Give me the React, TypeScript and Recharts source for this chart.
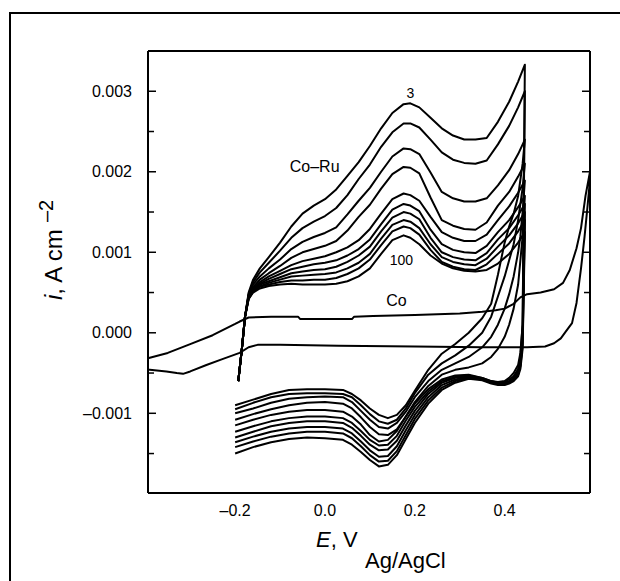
import { LineChart, Line, XAxis, YAxis, ReferenceDot } from 'recharts';

// potential grids (V vs Ag/AgCl)
const anodicE = [
  -0.193, -0.185, -0.178, -0.17, -0.16, -0.145, -0.125, -0.1, -0.075, -0.05, -0.025, 0, 0.025, 0.05, 0.075, 0.1,
  0.125, 0.15, 0.175, 0.19, 0.21, 0.235, 0.26, 0.285, 0.31, 0.335, 0.36, 0.385, 0.41, 0.43, 0.445,
];
const cathodicE = [
  0.445, 0.44, 0.435, 0.43, 0.42, 0.41, 0.4, 0.385, 0.37, 0.35, 0.32, 0.29, 0.26, 0.23, 0.2, 0.18, 0.16, 0.14, 0.12,
  0.1, 0.08, 0.06, 0.04, 0, -0.04, -0.08, -0.12, -0.16, -0.2,
];

// Co-Ru cycles, from cycle 3 (top) down to cycle 100
const anodicCycles = [
  [-0.0006, -0.0002, 0.0002, 0.0005, 0.00066, 0.0008, 0.00094, 0.00112, 0.00132, 0.00148, 0.00158, 0.00166, 0.00178, 0.00195, 0.00212, 0.00232, 0.00254, 0.00273, 0.00284, 0.00285, 0.0028, 0.00267, 0.00254, 0.00245, 0.0024, 0.0024, 0.00242, 0.00262, 0.00287, 0.00312, 0.00333],
  [-0.0006, -0.0002, 0.0002, 0.00048, 0.00063, 0.00075, 0.00087, 0.00102, 0.00118, 0.0013, 0.00138, 0.00145, 0.00155, 0.00171, 0.00191, 0.00209, 0.00231, 0.00249, 0.0026, 0.0026, 0.00255, 0.0024, 0.00224, 0.00215, 0.00211, 0.0021, 0.00214, 0.00234, 0.00257, 0.0028, 0.003],
  [-0.0006, -0.0002, 0.0002, 0.00047, 0.0006, 0.0007, 0.0008, 0.00091, 0.00104, 0.00113, 0.00119, 0.00124, 0.00131, 0.00147, 0.00164, 0.0018, 0.002, 0.00219, 0.00229, 0.00228, 0.00222, 0.00199, 0.00175, 0.00167, 0.00163, 0.00163, 0.00167, 0.00183, 0.00202, 0.00222, 0.0024],
  [-0.0006, -0.0002, 0.0002, 0.00046, 0.00057, 0.00066, 0.00074, 0.00083, 0.00093, 0.001, 0.00104, 0.00108, 0.00114, 0.00127, 0.00144, 0.00159, 0.00179, 0.00197, 0.00206, 0.00205, 0.00198, 0.00168, 0.0014, 0.00133, 0.00129, 0.00128, 0.00137, 0.00158, 0.00175, 0.00194, 0.0021],
  [-0.0006, -0.0002, 0.0002, 0.00045, 0.00055, 0.00063, 0.0007, 0.00077, 0.00084, 0.00089, 0.00092, 0.00095, 0.001, 0.00106, 0.00115, 0.00129, 0.00148, 0.00166, 0.00173, 0.00171, 0.00164, 0.00144, 0.00125, 0.00118, 0.00114, 0.00114, 0.00122, 0.0014, 0.00157, 0.00174, 0.00189],
  [-0.0006, -0.0002, 0.0002, 0.00044, 0.00054, 0.00061, 0.00067, 0.00073, 0.00079, 0.00082, 0.00085, 0.00087, 0.0009, 0.00096, 0.00104, 0.00116, 0.00135, 0.00153, 0.0016, 0.00158, 0.00151, 0.00128, 0.0011, 0.00103, 0.001, 0.00099, 0.00108, 0.00125, 0.0014, 0.00156, 0.0017],
  [-0.0006, -0.0002, 0.0002, 0.00043, 0.00053, 0.0006, 0.00064, 0.00069, 0.00074, 0.00076, 0.00078, 0.00079, 0.00082, 0.00088, 0.00096, 0.00107, 0.00126, 0.00143, 0.0015, 0.00148, 0.00141, 0.00118, 0.001, 0.00094, 0.00091, 0.0009, 0.00099, 0.00116, 0.0013, 0.00146, 0.0016],
  [-0.0006, -0.0002, 0.0002, 0.00043, 0.00052, 0.00058, 0.00062, 0.00066, 0.0007, 0.00071, 0.00072, 0.00073, 0.00075, 0.0008, 0.00087, 0.00098, 0.00117, 0.00134, 0.0014, 0.00138, 0.0013, 0.0011, 0.00094, 0.00088, 0.00085, 0.00084, 0.00092, 0.00107, 0.00121, 0.00136, 0.0015],
  [-0.0006, -0.0002, 0.0002, 0.00042, 0.00051, 0.00057, 0.0006, 0.00063, 0.00065, 0.00065, 0.00066, 0.00066, 0.00068, 0.00073, 0.0008, 0.00091, 0.00109, 0.00126, 0.00132, 0.0013, 0.00122, 0.00103, 0.00088, 0.00082, 0.00079, 0.00078, 0.00085, 0.00098, 0.00111, 0.00126, 0.0014],
  [-0.0006, -0.0002, 0.0002, 0.00042, 0.0005, 0.00055, 0.00058, 0.0006, 0.00061, 0.0006, 0.0006, 0.0006, 0.00061, 0.00064, 0.0007, 0.0008, 0.00098, 0.00115, 0.00121, 0.00118, 0.0011, 0.00096, 0.00086, 0.0008, 0.00077, 0.00076, 0.00078, 0.00086, 0.00098, 0.00112, 0.00125],
];

// return sweeps, same order as anodicCycles
const cathodicCycles = [
  [0.00333, 0.0001, -0.00025, -0.0004, -0.0005, -0.00056, -0.0006, -0.00061, -0.0006, -0.00056, -0.00052, -0.00053, -0.00058, -0.0007, -0.00088, -0.00104, -0.00122, -0.00133, -0.00135, -0.00127, -0.00114, -0.00104, -0.00098, -0.00096, -0.00096, -0.00098, -0.00102, -0.00108, -0.00115],
  [0.003, 0.0001, -0.0003, -0.00045, -0.00054, -0.00058, -0.00061, -0.00062, -0.0006, -0.00056, -0.00053, -0.00055, -0.0006, -0.00073, -0.00092, -0.00109, -0.00128, -0.00139, -0.0014, -0.00133, -0.00122, -0.00112, -0.00106, -0.00104, -0.00104, -0.00106, -0.0011, -0.00116, -0.00123],
  [0.0024, 0.0021, 0.0019, 0.0017, 0.00148, 0.00132, 0.00112, 0.00072, 0.00036, 0.00018, 0.0, -0.00014, -0.00026, -0.00046, -0.00072, -0.0009, -0.00102, -0.00106, -0.00102, -0.00094, -0.00084, -0.00076, -0.00071, -0.0007, -0.0007, -0.00071, -0.00076, -0.00083, -0.0009],
  [0.0021, 0.0018, 0.0016, 0.0014, 0.0011, 0.0009, 0.0007, 0.00045, 0.0002, 0.0, -0.00016, -0.00028, -0.00038, -0.00052, -0.00075, -0.00094, -0.00108, -0.00113, -0.0011, -0.00101, -0.0009, -0.0008, -0.00076, -0.00075, -0.00075, -0.00076, -0.0008, -0.00087, -0.00095],
  [0.00189, 0.0015, 0.0012, 0.001, 0.0007, 0.00048, 0.0003, 0.0001, -0.00005, -0.00018, -0.0003, -0.00038, -0.00046, -0.0006, -0.0008, -0.00098, -0.00112, -0.00119, -0.00117, -0.00108, -0.00097, -0.00086, -0.0008, -0.00079, -0.0008, -0.00082, -0.00087, -0.00094, -0.001],
  [0.0017, 0.0012, 0.0009, 0.0006, 0.0003, 0.0001, -0.00005, -0.0002, -0.0003, -0.00038, -0.00043, -0.00046, -0.00052, -0.00066, -0.00086, -0.00104, -0.0012, -0.00127, -0.00126, -0.00117, -0.00105, -0.00094, -0.00088, -0.00086, -0.00087, -0.0009, -0.00095, -0.00101, -0.00108],
  [0.0016, 0.0, -0.00035, -0.00048, -0.00056, -0.0006, -0.00062, -0.00062, -0.00061, -0.00057, -0.00054, -0.00056, -0.00062, -0.00076, -0.00097, -0.00115, -0.00134, -0.00145, -0.00146, -0.00139, -0.00128, -0.00118, -0.00112, -0.0011, -0.0011, -0.00112, -0.00116, -0.00123, -0.0013],
  [0.0015, -0.0001, -0.0004, -0.0005, -0.00058, -0.00061, -0.00063, -0.00063, -0.00061, -0.00057, -0.00055, -0.00058, -0.00065, -0.0008, -0.00102, -0.00121, -0.00141, -0.00153, -0.00154, -0.00146, -0.00135, -0.00125, -0.00119, -0.00117, -0.00117, -0.00119, -0.00123, -0.00129, -0.00136],
  [0.0014, -0.00015, -0.00042, -0.00052, -0.00059, -0.00062, -0.00064, -0.00064, -0.00062, -0.00058, -0.00056, -0.0006, -0.00068, -0.00084, -0.00107, -0.00127, -0.00147, -0.00159, -0.0016, -0.00152, -0.00141, -0.00131, -0.00125, -0.00123, -0.00123, -0.00125, -0.00129, -0.00135, -0.00142],
  [0.00125, -0.0002, -0.00045, -0.00054, -0.0006, -0.00063, -0.00065, -0.00065, -0.00063, -0.00059, -0.00057, -0.00062, -0.00071, -0.00088, -0.00112, -0.00132, -0.00152, -0.00164, -0.00166, -0.00158, -0.00148, -0.00139, -0.00133, -0.00131, -0.0013, -0.00132, -0.00136, -0.00142, -0.0015],
];

// bare Co electrode, one full loop
const coE = [
  -0.42, -0.39, -0.35, -0.3, -0.25, -0.2, -0.19, -0.17, -0.12, -0.06, -0.055, 0.06, 0.065, 0.107, 0.2, 0.3, 0.35,
  0.38, 0.4, 0.42, 0.435, 0.45, 0.48, 0.51, 0.53, 0.545, 0.56, 0.57, 0.58, 0.59, 0.595,
  0.585, 0.578, 0.57, 0.56, 0.55, 0.538, 0.525, 0.51, 0.49, 0.45, 0.35, 0.2, 0.03, -0.1, -0.15, -0.17, -0.19,
  -0.23, -0.264, -0.3, -0.316, -0.33, -0.353, -0.39, -0.42,
];
const coI = [
  -0.00036, -0.00031, -0.00025, -0.00014, -0.00003, 0.00011, 0.00014, 0.00019, 0.0002, 0.0002, 0.00017, 0.00017,
  0.0002, 0.00021, 0.00022, 0.00024, 0.00026, 0.00028, 0.0003, 0.00036, 0.00044, 0.00048, 0.0005, 0.00054, 0.00062,
  0.00078, 0.00105, 0.0013, 0.0017, 0.002, 0.0022,
  0.0016, 0.0012, 0.0008, 0.00037, 0.00012, 0.00003, -0.00007, -0.00013, -0.00017, -0.00018, -0.00018, -0.00017,
  -0.00016, -0.00015, -0.00015, -0.00018, -0.00025, -0.00033, -0.0004, -0.00048, -0.00051, -0.0005, -0.00048,
  -0.00046, -0.00045,
];

const xMajor = [-0.2, 0, 0.2, 0.4];
const xMinor = [-0.3, -0.1, 0.1, 0.3, 0.5];
const yMajor = [-0.001, 0, 0.001, 0.002, 0.003];
const yMinor = [-0.0015, -0.0005, 0.0005, 0.0015, 0.0025];

const xDomain = [-0.394, 0.59];
const yDomain = [-0.00199, 0.0035];

const cycleSeries = anodicCycles.map((a, k) => [
  ...anodicE.map((E, j) => ({ E, i: a[j] })),
  ...cathodicE.map((E, j) => ({ E, i: cathodicCycles[k][j] })),
]);
const coSeries = coE.map((E, j) => ({ E, i: coI[j] }));

const font = '"Liberation Sans", Arial, sans-serif';
const dash = (v: number, d: number) => (v < 0 ? '\u2013' : '') + Math.abs(v).toFixed(d);
const blank = () => '';

const axisStroke = { stroke: '#000', strokeWidth: 2 };
const tickStroke = { stroke: '#000', strokeWidth: 1.5 };

// tick-only axes drawn inside the frame (mirror) for the inward tick marks
function tickAxisProps(ticks: number[], size: number) {
  return { ticks, mirror: true, tickFormatter: blank, tickSize: size, axisLine: false, tickLine: tickStroke, allowDataOverflow: true, type: 'number' as const };
}

export default function App() {
  return (
    <div style={{ position: 'absolute', left: 0, top: 0, width: 620, height: 581, overflow: 'hidden', background: '#fff', fontFamily: font }}>
      <div style={{ position: 'absolute', left: 9, top: 12, width: 620, height: 581, borderLeft: '2px solid #000', borderTop: '2px solid #000' }} />
      <LineChart width={620} height={581} margin={{ top: 51, right: 30, bottom: 48, left: 88 }} style={{ position: 'absolute', left: 0, top: 0 }}>
        <XAxis xAxisId="x" dataKey="E" type="number" domain={xDomain} allowDataOverflow ticks={xMajor} height={40} tickLine={false} tickSize={0} tickMargin={12} axisLine={axisStroke} tickFormatter={(v) => dash(v, 1)} tick={{ fill: '#000', fontSize: 16, fontFamily: font }} />
        <XAxis xAxisId="xb" orientation="bottom" height={1} domain={xDomain} {...tickAxisProps(xMajor, 8)} />
        <XAxis xAxisId="xm" orientation="bottom" height={1} domain={xDomain} {...tickAxisProps(xMinor, 5)} />
        <XAxis xAxisId="xt" orientation="top" height={1} domain={xDomain} {...tickAxisProps(xMajor, 8)} axisLine={axisStroke} />
        <XAxis xAxisId="xtm" orientation="top" height={1} domain={xDomain} {...tickAxisProps(xMinor, 5)} />
        <YAxis yAxisId="y" type="number" domain={yDomain} allowDataOverflow ticks={yMajor} width={60} tickLine={false} tickSize={0} tickMargin={16} axisLine={axisStroke} tickFormatter={(v) => dash(v, 3)} tick={{ fill: '#000', fontSize: 16, fontFamily: font }} />
        <YAxis yAxisId="yl" orientation="left" width={1} domain={yDomain} {...tickAxisProps(yMajor, 8)} />
        <YAxis yAxisId="ym" orientation="left" width={1} domain={yDomain} {...tickAxisProps(yMinor, 5)} />
        <YAxis yAxisId="yr" orientation="right" width={1} domain={yDomain} {...tickAxisProps(yMajor, 8)} axisLine={axisStroke} />
        <YAxis yAxisId="yrm" orientation="right" width={1} domain={yDomain} {...tickAxisProps(yMinor, 5)} />

        <Line xAxisId="x" yAxisId="y" data={coSeries} dataKey="i" type="linear" dot={false} stroke="#000" strokeWidth={2} strokeLinejoin="round" isAnimationActive={false} />
        {cycleSeries.map((s, k) => (
          <Line key={k} xAxisId="x" yAxisId="y" data={s} dataKey="i" type="linear" dot={false} stroke="#000" strokeWidth={2} strokeLinejoin="round" isAnimationActive={false} />
        ))}

        <ReferenceDot xAxisId="x" yAxisId="y" x={0.19} y={0.00298} r={0} label={{ value: '3', position: 'center', fontSize: 14, fill: '#000', fontFamily: font }} />
        <ReferenceDot xAxisId="x" yAxisId="y" x={-0.023} y={0.00207} r={0} label={{ value: 'Co\u2013Ru', position: 'center', fontSize: 16, fill: '#000', fontFamily: font }} />
        <ReferenceDot xAxisId="x" yAxisId="y" x={0.17} y={0.0009} r={0} label={{ value: '100', position: 'center', fontSize: 14, fill: '#000', fontFamily: font }} />
        <ReferenceDot xAxisId="x" yAxisId="y" x={0.159} y={0.0004} r={0} label={{ value: 'Co', position: 'center', fontSize: 16, fill: '#000', fontFamily: font }} />
      </LineChart>
      <svg width={620} height={581} style={{ position: 'absolute', left: 0, top: 0, pointerEvents: 'none' }} fontFamily={font}>
        <text x={316} y={547} fontSize={22} fill="#000">
          <tspan fontStyle="italic">E</tspan>, V
        </text>
        <text x={365} y={567.5} fontSize={22} fill="#000">Ag/AgCl</text>
        <text transform="translate(62,300) rotate(-90)" fontSize={24} fill="#000">
          <tspan fontStyle="italic">i</tspan>, A cm
        </text>
        <text transform="translate(53,222) rotate(-90)" fontSize={20} fill="#000">{'\u2013'}2</text>
      </svg>
    </div>
  );
}
